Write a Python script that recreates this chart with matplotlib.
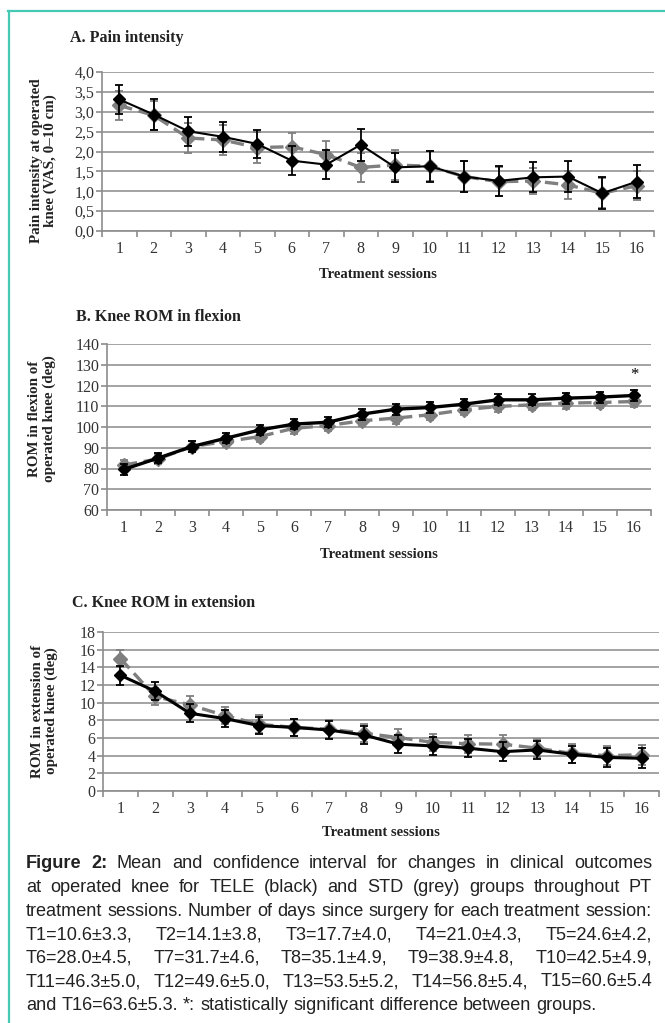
import numpy as np
import matplotlib
matplotlib.use("Agg")
import matplotlib.pyplot as plt
from matplotlib.lines import Line2D

# sessions
sessions = list(range(1, 17))

# A. pain intensity (VAS)
pain_tele = [3.31, 2.93, 2.51, 2.37, 2.19, 1.77, 1.67, 2.17, 1.60, 1.63, 1.37, 1.26, 1.35, 1.37, 0.95, 1.24]
pain_tele_err = [0.37, 0.38, 0.36, 0.38, 0.36, 0.37, 0.37, 0.40, 0.37, 0.39, 0.38, 0.38, 0.38, 0.38, 0.40, 0.42]
pain_std = [3.16, 2.91, 2.34, 2.29, 2.10, 2.12, 1.92, 1.60, 1.66, 1.63, 1.37, 1.24, 1.26, 1.16, 0.95, 1.14]
pain_std_err = [0.36, 0.36, 0.38, 0.37, 0.38, 0.35, 0.35, 0.36, 0.38, 0.38, 0.38, 0.36, 0.33, 0.35, 0.38, 0.36]

# B. ROM flexion (deg)
flex_tele = [79.6, 85.0, 90.6, 94.6, 98.6, 101.4, 102.3, 106.2, 108.6, 109.4, 111.0, 113.1, 113.1, 113.9, 114.4, 115.2]
flex_tele_err = [2.5, 2.5, 2.5, 2.5, 2.5, 2.5, 2.5, 2.6, 2.6, 2.6, 2.6, 2.6, 2.6, 2.6, 2.7, 2.8]
flex_std = [81.7, 84.6, 90.6, 93.0, 95.4, 99.4, 100.7, 103.0, 104.3, 105.9, 108.3, 109.9, 110.7, 111.5, 111.8, 112.3]
flex_std_err = [2.5, 2.5, 2.5, 2.5, 2.6, 2.6, 2.6, 2.6, 2.7, 2.7, 2.7, 2.7, 2.7, 2.7, 2.7, 2.7]
signif = [16]

# C. ROM extension (deg)
ext_tele = [13.1, 11.3, 8.8, 8.2, 7.4, 7.2, 6.9, 6.35, 5.3, 5.1, 4.85, 4.45, 4.65, 4.15, 3.8, 3.7]
ext_tele_err = [1.1, 1.0, 1.0, 1.0, 1.0, 1.0, 1.0, 1.0, 1.0, 1.0, 1.0, 1.05, 1.0, 1.0, 1.05, 1.13]
ext_std = [15.0, 10.7, 9.75, 8.55, 7.55, 7.2, 7.0, 6.55, 6.05, 5.5, 5.35, 5.3, 4.85, 4.25, 4.0, 4.1]
ext_std_err = [1.0, 1.0, 1.0, 1.0, 1.0, 1.0, 1.0, 1.0, 1.0, 1.0, 1.0, 1.0, 1.0, 1.1, 1.1, 1.1]

caption_lines = [
    "Figure 2: Mean and confidence interval for changes in clinical outcomes",
    "at operated knee for TELE (black) and STD (grey) groups throughout PT",
    "treatment sessions. Number of days since surgery for each treatment session:",
    "T1=10.6±3.3, T2=14.1±3.8, T3=17.7±4.0, T4=21.0±4.3, T5=24.6±4.2,",
    "T6=28.0±4.5, T7=31.7±4.6, T8=35.1±4.9, T9=38.9±4.8, T10=42.5±4.9,",
    "T11=46.3±5.0, T12=49.6±5.0, T13=53.5±5.2, T14=56.8±5.4, T15=60.6±5.4",
    "and T16=63.6±5.3. *: statistically significant difference between groups.",
]

W, H = 665, 1023
fig = plt.figure(figsize=(W / 100, H / 100), dpi=100)
serif = "Liberation Serif"
sans = "Liberation Sans"
grey = "#7f7f7f"
axcol = "#8c8c8c"


def fx(x):
    return x / W


def fy(y):
    return 1 - y / H


panels = [
    dict(title="A. Pain intensity", tpos=(70, 38),
         ylabel="Pain intensity at operated\nknee (VAS, 0–10 cm)", ypos=(43.5, 161),
         box=(102, 654, 72, 231), ylim=(0, 4), yticks=np.arange(0, 4.01, 0.5), comma=True,
         xlab_y=275, tele=pain_tele, tele_err=pain_tele_err, std=pain_std, std_err=pain_std_err, lw=1.5),
    dict(title="B. Knee ROM in flexion", tpos=(76, 317),
         ylabel="ROM in flexion of\noperated knee (deg)", ypos=(42, 419),
         box=(107, 651, 344, 510), ylim=(60, 140), yticks=np.arange(60, 141, 10), comma=False,
         xlab_y=555, tele=flex_tele, tele_err=flex_tele_err, std=flex_std, std_err=flex_std_err, lw=2.4),
    dict(title="C. Knee ROM in extension", tpos=(72, 603),
         ylabel="ROM in extension of\noperated knee (deg)", ypos=(44.5, 711),
         box=(103, 659, 632, 791), ylim=(0, 18), yticks=np.arange(0, 19, 2), comma=False,
         xlab_y=833, tele=ext_tele, tele_err=ext_tele_err, std=ext_std, std_err=ext_std_err, lw=2.2),
]

for p in panels:
    l, r, t, b = p["box"]
    ax = fig.add_axes([fx(l), fy(b), (r - l) / W, (b - t) / H])
    ax.set_xlim(0.5, 16.5)
    ax.set_ylim(*p["ylim"])
    ax.set_yticks(p["yticks"])
    if p["comma"]:
        ax.set_yticklabels([f"{v:.1f}".replace(".", ",") for v in p["yticks"]])
    ax.set_xticks(sessions)
    ax.set_xticks(np.arange(0.5, 17, 1), minor=True)
    ax.tick_params(axis="x", which="major", length=0, pad=7, labelsize=11.5)
    ax.tick_params(axis="x", which="minor", length=4, width=1.2, color=axcol)
    ax.tick_params(axis="y", length=4, width=1.2, color=axcol, pad=1.5, labelsize=11.5)
    for lab in ax.get_xticklabels() + ax.get_yticklabels():
        lab.set_fontfamily(serif)
        lab.set_color("#333333")
    ax.yaxis.grid(True, color="#a3a3a3", lw=1.4)
    ax.set_axisbelow(True)
    for s in ("top", "right"):
        ax.spines[s].set_visible(False)
    for s in ("left", "bottom"):
        ax.spines[s].set_color(axcol)
        ax.spines[s].set_linewidth(1.2)

    ax.errorbar(sessions, p["std"], yerr=p["std_err"], color=grey, ecolor=grey, lw=2.4,
                ls=(0, (4, 2)), marker="D", ms=7, mfc=grey, mec=grey,
                elinewidth=1.3, capsize=3.2, capthick=1.3, zorder=3)
    ax.errorbar(sessions, p["tele"], yerr=p["tele_err"], color="black", ecolor="black", lw=p["lw"],
                marker="D", ms=6, mfc="black", mec="black",
                elinewidth=1.3, capsize=3.2, capthick=1.3, zorder=4)

    fig.text(fx(p["tpos"][0]), fy(p["tpos"][1]), p["title"], family=serif, weight="bold",
             fontsize=11.5, ha="left", va="center", color="#222222")
    fig.text(fx(p["ypos"][0]), fy(p["ypos"][1]), p["ylabel"], family=serif, weight="bold",
             fontsize=10.8, rotation=90, ha="center", va="center", multialignment="center",
             linespacing=1.1, color="#222222")
    fig.text(fx((l + r) / 2), fy(p["xlab_y"]), "Treatment sessions", family=serif,
             weight="bold", fontsize=10.5, ha="center", va="center", color="#222222")
    if p["title"].startswith("B"):
        for s in signif:
            ax.text(s, p["tele"][s - 1] + p["tele_err"][s - 1] + 3, "*", family=serif,
                    fontsize=12, ha="center", va="bottom")

# teal frame
teal = "#45c9b5"
fig.add_artist(Line2D([fx(8), fx(665)], [fy(11), fy(11)], color=teal, lw=1.6))
fig.add_artist(Line2D([fx(8.5), fx(8.5)], [fy(11), fy(1023)], color=teal, lw=1.6))

# caption, justified
x0, x1 = 26, 652
renderer = fig.canvas.get_renderer()


def width(txt, size, weight="normal"):
    t = fig.text(0, 0, txt, family=sans, fontsize=size, weight=weight)
    w = t.get_window_extent(renderer).width
    t.remove()
    return w


size = 12 * (x1 - x0) / width(caption_lines[2], 12)
y0, step = 864, 23.6
for i, line in enumerate(caption_lines):
    words = line.split(" ")
    weights = ["normal"] * len(words)
    if i == 0:
        weights[0] = weights[1] = "bold"
    yy = fy(y0 + i * step)
    ws = [width(w, size, wt) for w, wt in zip(words, weights)]
    if i < len(caption_lines) - 1:
        gap = (x1 - x0 - sum(ws)) / (len(words) - 1)
    else:
        gap = width("a b", size) - width("ab", size)
    x = x0
    for w, wt, wd in zip(words, weights, ws):
        fig.text(fx(x), yy, w, family=sans, fontsize=size, weight=wt, ha="left", va="center",
                 color="#222222")
        x += wd + gap

fig.savefig("out.png", dpi=100)
